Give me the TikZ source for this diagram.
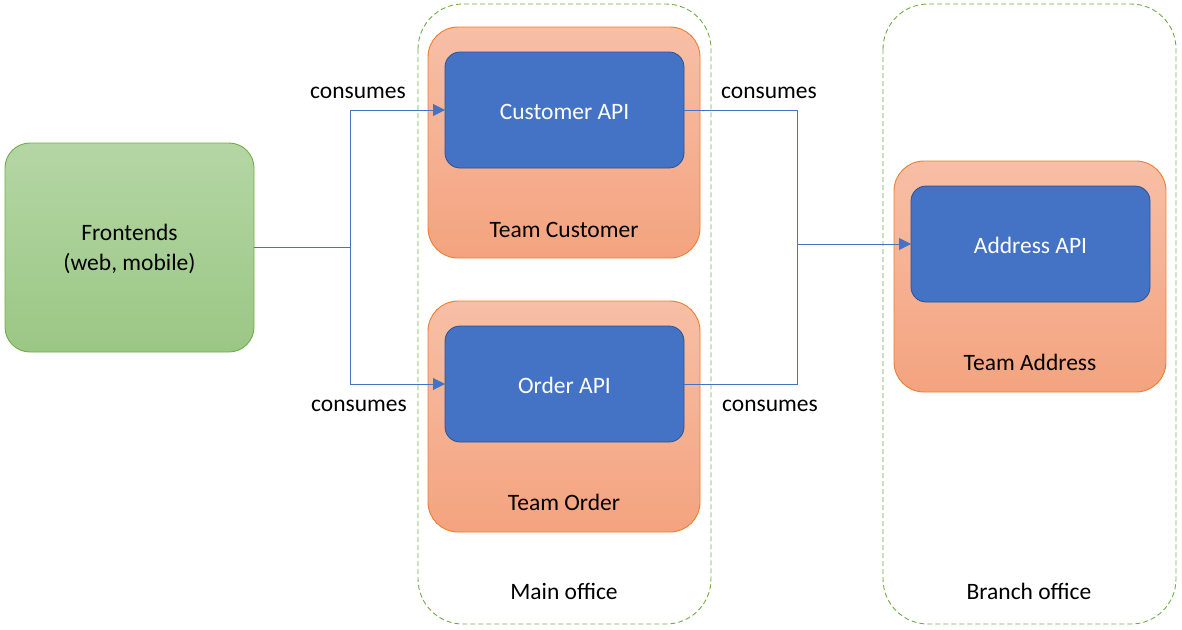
\documentclass[tikz,border=0pt]{standalone}
\usepackage{fontspec}
\setmainfont{Carlito}
\usetikzlibrary{arrows.meta}
\definecolor{lineblue}{HTML}{4472C4}
\definecolor{apiborder}{HTML}{2F528F}
\definecolor{teamborder}{HTML}{ED7D31}
\definecolor{teamtop}{HTML}{F7BFA6}
\definecolor{teambot}{HTML}{F4A37F}
\definecolor{greenborder}{HTML}{70AD47}
\definecolor{greentop}{HTML}{B4D6A4}
\definecolor{greenbot}{HTML}{9BC785}
\tikzset{
  txt/.style={font=\fontsize{23.5}{30}\selectfont, align=center, inner sep=0pt},
  office/.style={draw=greenborder, dashed, dash pattern=on 5pt off 3pt, line width=0.9pt, rounded corners=45pt},
  team/.style={draw=teamborder, line width=0.9pt, rounded corners=30pt, top color=teamtop, bottom color=teambot},
  api/.style={draw=apiborder, line width=0.8pt, fill=lineblue, rounded corners=15pt},
  conn/.style={draw=lineblue, line width=0.9pt},
  arr/.style={conn, -{Triangle[length=12pt,width=12pt]}},
}
\begin{document}
\begin{tikzpicture}[x=1pt,y=-1pt]
\useasboundingbox (0,0) rectangle (1182,629);
% offices
\draw[office] (418,4) rectangle (711,624);
\draw[office] (883,4) rectangle (1176,624);
\node[txt] (mainlbl) at (564,591.5) {Main office};
\node[txt] (branchlbl) at (1029,591.5) {Branch office};
% frontends
\draw[draw=greenborder, line width=0.9pt, rounded corners=25pt, top color=greentop, bottom color=greenbot] (5,143) rectangle (254,352);
\node[txt] (fe) at (129.5,249) {Frontends\\(web, mobile)};
\coordinate (feR) at (254,247);
% teams
\draw[team] (428,27) rectangle (700,258);
\draw[api] (445,52) rectangle (684,168);
\node[txt, text=white] (custapi) at (564.5,111.5) {Customer API};
\node[txt] (teamcust) at (564,229.5) {Team Customer};
\draw[team] (428,301) rectangle (700,532);
\draw[api] (445,326) rectangle (684,442);
\node[txt, text=white] (ordapi) at (564.5,385.5) {Order API};
\node[txt] (teamord) at (564,502.5) {Team Order};
\draw[team] (894,161) rectangle (1166,392);
\draw[api] (911,186) rectangle (1150,302);
\node[txt, text=white] (addrapi) at (1030.5,245.5) {Address API};
\node[txt] (teamaddr) at (1030,362.5) {Team Address};
% connector anchor coordinates
\coordinate (custL) at (445,110);
\coordinate (custR) at (684,110);
\coordinate (ordL) at (445,384);
\coordinate (ordR) at (684,384);
\coordinate (addrL) at (911,244);
\coordinate (jl) at (350,247);
\coordinate (jr) at (797,244);
% connectors
\draw[conn] (feR) -- (jl);
\draw[arr] (jl) |- (custL);
\draw[arr] (jl) |- (ordL);
\draw[conn] (custR) -| (jr);
\draw[conn] (ordR) -| (jr);
\draw[arr] (jr) -- (addrL);
% labels
\node[txt] (c1) at (358,92.5) {consumes};
\node[txt] (c2) at (359,405.5) {consumes};
\node[txt] (c3) at (769,92.5) {consumes};
\node[txt] (c4) at (770,405.5) {consumes};
\end{tikzpicture}
\end{document}
